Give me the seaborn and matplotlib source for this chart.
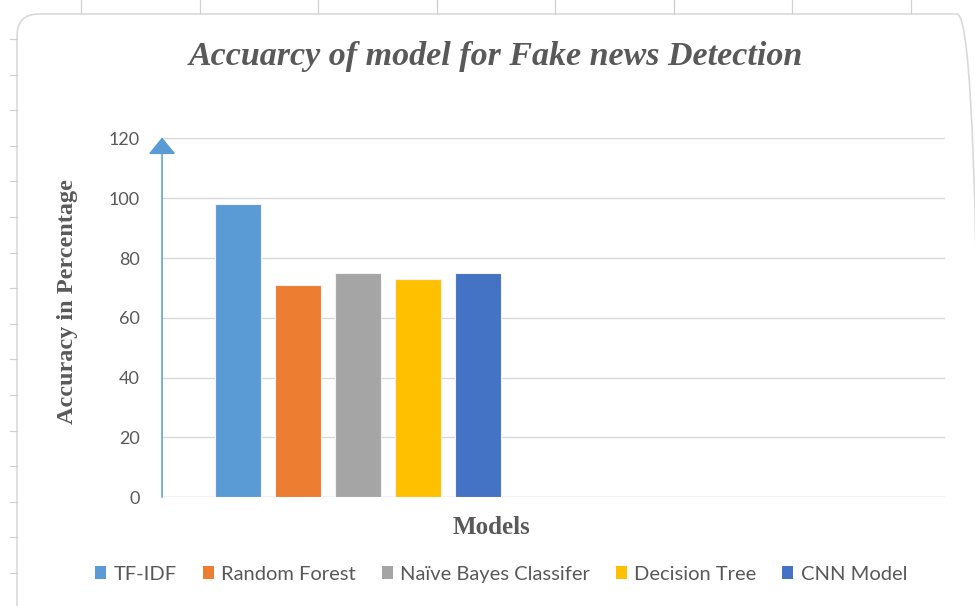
import matplotlib
matplotlib.use("Agg")
import matplotlib.pyplot as plt
from matplotlib.patches import Patch, FancyBboxPatch
from matplotlib.lines import Line2D
import seaborn as sns
import pandas as pd

# data
models = ["TF-IDF", "Random Forest", "Naïve Bayes Classifer", "Decision Tree", "CNN Model"]
accuracy = [98, 71, 75, 73, 75]
colors = ["#5b9bd5", "#ed7d31", "#a5a5a5", "#ffc000", "#4472c4"]
yticks = [0, 20, 40, 60, 80, 100, 120]

df = pd.DataFrame({"Model": models, "Accuracy": accuracy})

sns.set_theme(style="white")
plt.rcParams["font.family"] = ["Lato", "DejaVu Sans"]
text_grey = "#595959"
grid_grey = "#d9d9d9"

fig = plt.figure(figsize=(9.75, 6.06), dpi=100)
ax = fig.add_axes([0.1662, 0.1794, 0.803, 0.5921])

sns.barplot(data=df, x="Model", y="Accuracy", hue="Model", palette=colors,
            saturation=1, width=0.77, legend=False, ax=ax,
            edgecolor="#f2f2f2", linewidth=0.8, zorder=3)

ax.set_ylim(0, 120)
ax.set_xlim(-1.267, 11.78)
ax.set_yticks(yticks)
ax.set_xticks([])
ax.yaxis.grid(True, color=grid_grey, linewidth=1.0, zorder=0)
ax.set_axisbelow(True)
for s in ["top", "right", "left", "bottom"]:
    ax.spines[s].set_visible(False)
ax.axhline(0, color=grid_grey, linewidth=1.0, zorder=1)
ax.tick_params(axis="y", length=0, pad=16, labelsize=13, labelcolor=text_grey)
ax.set_xlabel("")
ax.set_ylabel("")

# blue arrow as the y axis
ax.annotate("", xy=(0, 1.003), xytext=(0, 0), xycoords="axes fraction",
            arrowprops=dict(arrowstyle="-|>,head_length=1.06,head_width=0.86",
                            mutation_scale=10, color="#5b9bd5", lw=1.1,
                            shrinkA=0, shrinkB=0), zorder=5)

serif = ["Liberation Serif", "DejaVu Serif"]
fig.text(0.509, 0.907, "Accuarcy of model for Fake news Detection", ha="center",
         va="center", fontsize=24.5, fontweight="bold", fontstyle="italic",
         family=serif, color=text_grey)
fig.text(0.069, 0.503, "Accuracy in Percentage", ha="center", va="center",
         rotation=90, fontsize=17.5, fontweight="bold", family=serif, color=text_grey)
fig.text(0.504, 0.129, "Models", ha="center", va="center", fontsize=18,
         fontweight="bold", family=serif, color=text_grey)

handles = [Patch(facecolor=c, edgecolor="none") for c in colors]
fig.legend(handles, models, loc="center", bbox_to_anchor=(0.514, 0.052), ncol=5,
           frameon=False, fontsize=14.5, labelcolor=text_grey, handlelength=0.55,
           handleheight=0.6, handletextpad=0.35, columnspacing=1.3)

# chart frame and sheet ruler ticks
frame = FancyBboxPatch((0.17, -0.2), 9.62, 6.12, boxstyle="round,pad=0,rounding_size=0.22",
                       transform=fig.dpi_scale_trans, facecolor="none",
                       edgecolor="#d9d9d9", linewidth=1.2, zorder=0)
fig.add_artist(frame)
for k in range(8):
    x = (81 + 118.5 * k) / 975
    fig.add_artist(Line2D([x, x], [1 - 14 / 606, 1.0], color="#d0d0d0", lw=0.9))
for k in range(17):
    y = 1 - (39 + 35.6 * k) / 606
    fig.add_artist(Line2D([10 / 975, 17 / 975], [y, y], color="#d0d0d0", lw=0.9))

fig.savefig("out.png", dpi=100)
